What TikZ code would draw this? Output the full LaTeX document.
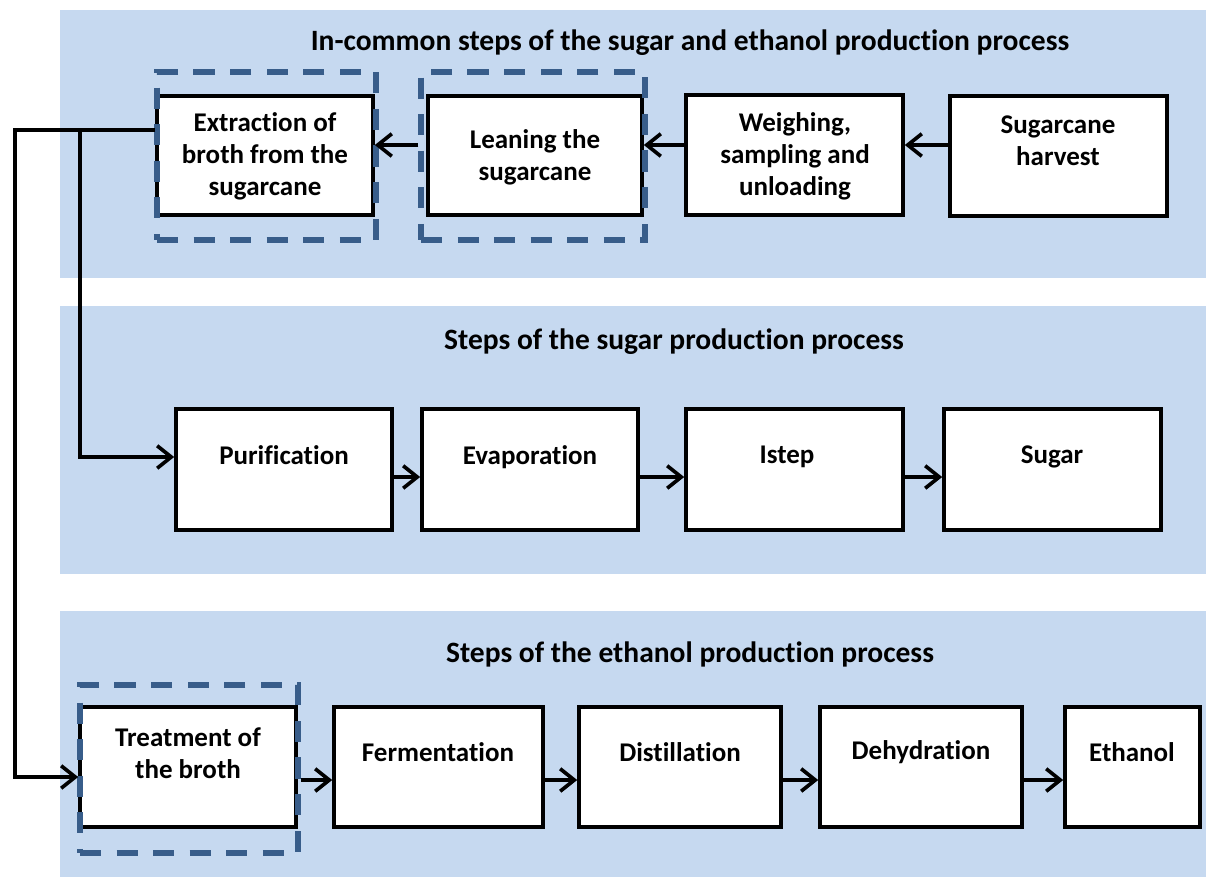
\documentclass[tikz,border=0pt]{standalone}
\usepackage{fontspec}
\setmainfont{Carlito}[Ligatures=NoCommon]
\usetikzlibrary{fit,arrows.meta}

\definecolor{panelblue}{RGB}{198,217,240}
\definecolor{dashblue}{RGB}{56,93,138}

\tikzset{
  panel/.style={fill=panelblue, draw=none, inner sep=0pt},
  stepbox/.style={draw=black, fill=white, line width=2.6pt, inner sep=0pt},
  dashbox/.style={draw=dashblue, line width=3.8pt, dash pattern=on 15pt off 11pt, inner sep=0pt},
  steptext/.style={align=center, font=\bfseries\fontsize{19.2}{22.7}\selectfont},
  paneltitle/.style={font=\bfseries\fontsize{21}{25}\selectfont},
  arr/.style={line width=2.6pt, -{Straight Barb[length=10pt,width=16pt]}},
}

\begin{document}
\begin{tikzpicture}[x=0.025cm, y=-0.025cm]
\useasboundingbox (0,0) rectangle (1206,877);

% panels
\node[panel, fit={(60,10) (1206,278)}] (common) {};
\node[panel, fit={(60,306) (1206,574)}] (sugarP) {};
\node[panel, fit={(60,611) (1206,877)}] (ethP) {};

\node[paneltitle] (commonT) at (690,43) {In-common steps of the sugar and ethanol production process};
\node[paneltitle] (sugarPT) at (674,342) {Steps of the sugar production process};
\node[paneltitle] (ethPT) at (690,654) {Steps of the ethanol production process};

% in-common steps
\node[stepbox, fit={(157,96) (373,215)}] (extr) {};
\node[stepbox, fit={(428,96) (642,215)}] (lean) {};
\node[stepbox, fit={(686,95) (903,215)}] (weigh) {};
\node[stepbox, fit={(950,96) (1167,216)}] (harv) {};
\node[dashbox, fit={(157,72) (376,240)}] (extrD) {};
\node[dashbox, fit={(421,72) (645,240)}] (leanD) {};

\node[steptext] (extrT) at (265,156) {Extraction of\\broth from the\\sugarcane};
\node[steptext] (leanT) at (535,157) {Leaning the\\sugarcane};
\node[steptext] (weighT) at (795,156) {Weighing,\\sampling and\\unloading};
\node[steptext] (harvT) at (1058,141) {Sugarcane\\harvest};

% sugar steps
\node[stepbox, fit={(176,409) (392,530)}] (purif) {};
\node[stepbox, fit={(422,409) (638,530)}] (evap) {};
\node[stepbox, fit={(686,409) (903,530)}] (istep) {};
\node[stepbox, fit={(944,409) (1161,530)}] (sugar) {};

\node[steptext] (purifT) at (284,455) {Purification};
\node[steptext] (evapT) at (530,457) {Evaporation};
\node[steptext] (istepT) at (787,457) {Istep};
\node[steptext] (sugarT) at (1052,457) {Sugar};

% ethanol steps
\node[stepbox, fit={(80,707) (296,827)}] (treat) {};
\node[stepbox, fit={(334,707) (543,827)}] (ferm) {};
\node[stepbox, fit={(579,707) (781,827)}] (dist) {};
\node[stepbox, fit={(820,707) (1022,827)}] (dehyd) {};
\node[stepbox, fit={(1065,707) (1200,827)}] (eth) {};
\node[dashbox, fit={(80,685) (298,853)}] (treatD) {};

\node[steptext] (treatT) at (188,753) {Treatment of\\the broth};
\node[steptext] (fermT) at (438,752) {Fermentation};
\node[steptext] (distT) at (680,752) {Distillation};
\node[steptext] (dehydT) at (921,752) {Dehydration};
\node[steptext] (ethT) at (1132,752) {Ethanol};

% arrows
\coordinate (row1) at (0,145);
\coordinate (row2) at (0,477);
\coordinate (row3) at (0,780);

\draw[arr] (harv.west |- row1) -- (weigh.east |- row1);
\draw[arr] (weigh.west |- row1) -- (lean.east |- row1);
\draw[arr] (leanD.west |- row1) -- (extr.east |- row1);

\draw[arr] (purif.east |- row2) -- (evap.west |- row2);
\draw[arr] (evap.east |- row2) -- (istep.west |- row2);
\draw[arr] (istep.east |- row2) -- (sugar.west |- row2);

\draw[arr] (treatD.east |- row3) -- (ferm.west |- row3);
\draw[arr] (ferm.east |- row3) -- (dist.west |- row3);
\draw[arr] (dist.east |- row3) -- (dehyd.west |- row3);
\draw[arr] (dehyd.east |- row3) -- (eth.west |- row3);

% broth to both lines
\coordinate (outer) at (15,130);
\coordinate (fork) at (80,130);
\coordinate (sugIn) at (80,457);
\coordinate (ethIn) at (15,777);
\draw[arr] (extr.west |- outer) -- (outer) |- (treat.west |- ethIn);
\draw[arr] (fork) |- (purif.west |- sugIn);

\end{tikzpicture}
\end{document}
